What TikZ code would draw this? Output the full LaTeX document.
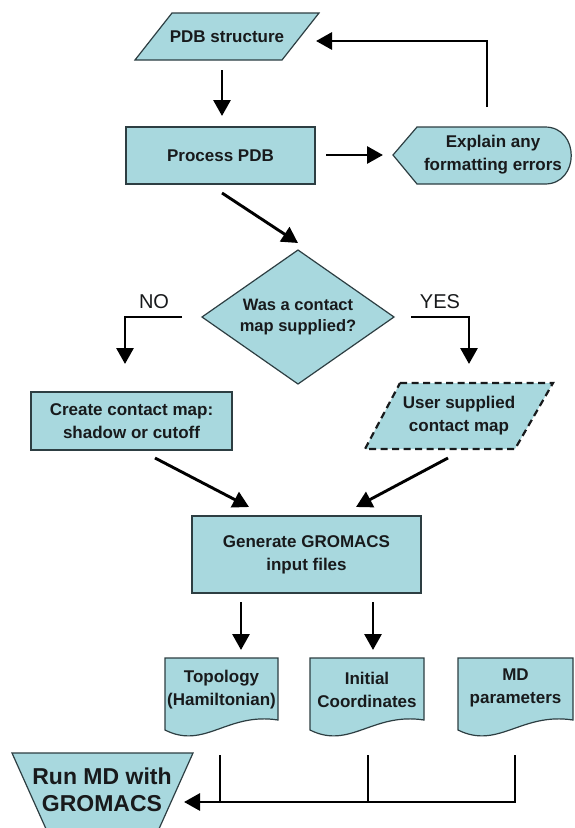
\documentclass[tikz,border=0pt]{standalone}
\usepackage{fontspec}
\setmainfont{Liberation Sans}
\usetikzlibrary{arrows.meta,calc}
\definecolor{fillc}{RGB}{168,216,222}
\definecolor{edgec}{RGB}{45,62,66}
\definecolor{txtc}{RGB}{24,26,28}
\tikzset{
  shapebox/.style={draw=edgec, line width=1.2pt, fill=fillc, line join=miter},
  dashbox/.style={draw=txtc, line width=2.2pt, fill=fillc, dash pattern=on 7pt off 4.5pt},
  lbl/.style={font=\bfseries\fontsize{17}{23}\selectfont, text=txtc, align=center, inner sep=0pt},
  biglbl/.style={font=\bfseries\fontsize{23}{27}\selectfont, text=txtc, align=center, inner sep=0pt},
  yn/.style={font=\fontsize{20}{24}\selectfont, text=txtc, inner sep=0pt},
  arr/.style={line width=2.9pt, draw=black, -{Triangle[length=16pt,width=17pt]}},
  conn/.style={line width=2.9pt, draw=black},
}
\newcommand\mydoc[2]{\draw[shapebox] (#1,658) -- (#2,658) -- (#2,720) .. controls ({#1+0.55*(#2-#1)},712) and ({#1+0.35*(#2-#1)},750) .. (#1,730) -- cycle;}
\begin{document}
\begin{tikzpicture}[x=1pt,y=-1pt]
\useasboundingbox (0,0) rectangle (575,828);
\fill[white] (0,0) rectangle (575,828);

% PDB structure
\draw[shapebox] (172,13) -- (319,13) -- (282,60) -- (135,60) -- cycle;
\node[lbl] (pdb) at (227,37) {PDB structure};

% Process PDB
\node[shapebox, lbl, minimum width=189pt, minimum height=57pt] (proc) at (220.5,155.5) {Process PDB};

% Explain
\draw[shapebox] (393,155) -- (417,127) -- (545,127) .. controls (580,127) and (580,184) .. (545,184) -- (417,184) -- cycle;
\node[lbl] (expl) at (493,155) {Explain any\\formatting errors};

% Diamond
\draw[shapebox] (298,250) -- (394,317) -- (298,384) -- (202,317) -- cycle;
\node[lbl, font=\bfseries\fontsize{16.5}{21}\selectfont] (dec) at (298,317) {Was a contact\\map supplied?};

% NO / YES
\node[yn] (no) at (154,302) {NO};
\node[yn] (yes) at (440,302) {YES};

% Create contact map
\node[shapebox, lbl, minimum width=201pt, minimum height=58pt] (create) at (131.5,421) {Create contact map:\\shadow or cutoff};

% User supplied
\draw[dashbox] (400,383) -- (553,383) -- (515,449) -- (365,449) -- cycle;
\node[lbl] (user) at (459,416) {User supplied\\contact map};

% Generate
\node[shapebox, lbl, minimum width=229pt, minimum height=77pt] (gen) at (306.5,554.5) {Generate GROMACS\\input files};

% Documents
\mydoc{165}{278}
\node[lbl] (topo) at (221.5,690) {Topology\\(Hamiltonian)};
\mydoc{310}{424}
\node[lbl] (init) at (367,690) {Initial\\Coordinates};
\mydoc{458}{573}
\node[lbl] (mdp) at (515.5,688) {MD\\parameters};

% Run MD
\draw[shapebox] (12,753) -- (193,753) -- (154,840) -- (51,840) -- cycle;
\node[biglbl] (run) at (102,790) {Run MD with\\GROMACS};

% connector coordinates
\coordinate (c1s) at (222,70);  \coordinate (c1e) at (222,116);
\coordinate (c2s) at (326,155); \coordinate (c2e) at (383,155);
\coordinate (c3a) at (487,107); \coordinate (c3b) at (487,41); \coordinate (c3e) at (316,41);
\coordinate (c4s) at (222,193); \coordinate (c4e) at (298,243);
\coordinate (c5a) at (182,317); \coordinate (c5b) at (125,317); \coordinate (c5e) at (125,364);
\coordinate (c6a) at (411,317); \coordinate (c6b) at (469,317); \coordinate (c6e) at (469,364);
\coordinate (c7s) at (155,458); \coordinate (c7e) at (249,507);
\coordinate (c8s) at (448,458); \coordinate (c8e) at (356,507);
\coordinate (c9s) at (241,602); \coordinate (c9e) at (241,650);
\coordinate (c10s) at (373,602); \coordinate (c10e) at (373,650);
\coordinate (t1) at (220,755); \coordinate (b1) at (220,802);
\coordinate (t2) at (368,755); \coordinate (b2) at (368,802);
\coordinate (t3) at (515,755); \coordinate (b3) at (515,802);
\coordinate (runin) at (184,802);

\draw[arr] (c1s) -- (c1e);
\draw[arr] (c2s) -- (c2e);
\draw[arr] (c3a) -- (c3b) -- (c3e);
\draw[arr] (c4s) -- (c4e);
\draw[arr] (c5a) -- (c5b) -- (c5e);
\draw[arr] (c6a) -- (c6b) -- (c6e);
\draw[arr] (c7s) -- (c7e);
\draw[arr] (c8s) -- (c8e);
\draw[arr] (c9s) -- (c9e);
\draw[arr] (c10s) -- (c10e);
\draw[conn] (t1) -- (b1);
\draw[conn] (t2) -- (b2);
\draw[arr] (t3) -- (b3) -- (runin);
\end{tikzpicture}
\end{document}
